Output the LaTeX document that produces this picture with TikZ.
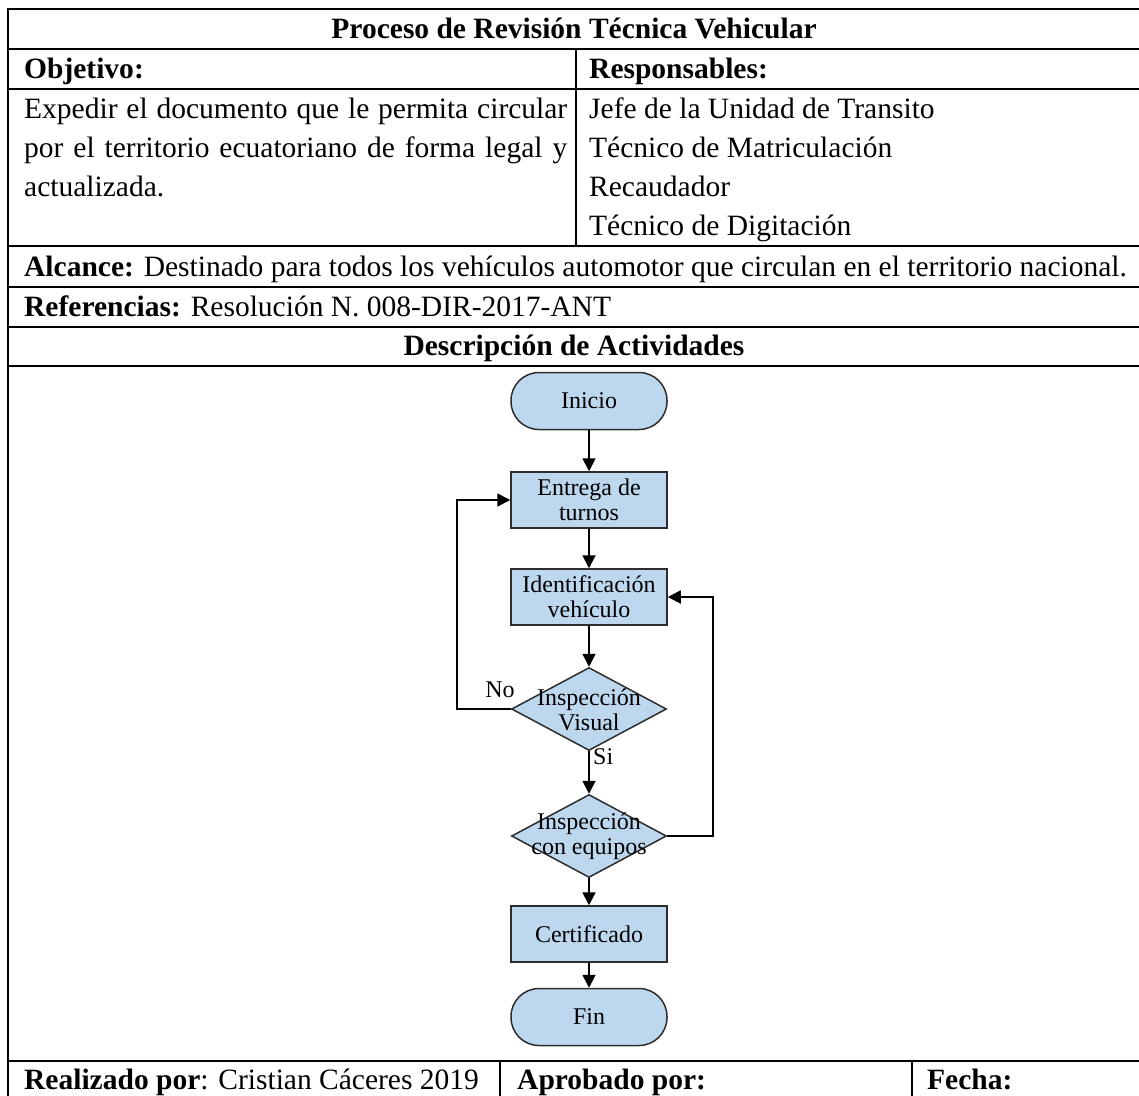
\documentclass[tikz,border=0pt]{standalone}
\usepackage{fontspec}
\setmainfont{Liberation Serif}
\usetikzlibrary{shapes.geometric,arrows.meta}
\definecolor{boxblue}{RGB}{189,215,238}
\definecolor{boxline}{RGB}{45,45,45}
\begin{document}
\begin{tikzpicture}[x=1pt,y=-1pt,
  hline/.style={line width=2.2pt},
  vline/.style={line width=1.6pt},
  txt/.style={inner sep=0pt,anchor=base west,font=\fontsize{29.5}{39}\selectfont},
  ctxt/.style={txt,anchor=base},
  fc/.style={draw=boxline,fill=boxblue,line width=1.5pt,inner sep=0pt,align=center,
    font=\fontsize{24}{25}\selectfont},
  procbox/.style={fc,rectangle,minimum width=156pt,minimum height=56pt},
  termbox/.style={fc,rectangle,rounded corners=28pt,minimum width=156pt,minimum height=57pt},
  decbox/.style={fc,diamond,minimum width=155pt,minimum height=83pt},
  fctext/.style={inner sep=0pt,align=center,font=\fontsize{24}{25}\selectfont},
  arr/.style={line width=1.8pt,draw=black,-{Triangle[length=13pt,width=13pt]}},
]
\useasboundingbox (0,0) rectangle (1139,1095);
% table rules
\draw[hline] (7,9) -- (1145,9);
\draw[hline] (7,49) -- (1145,49);
\draw[hline] (7,89) -- (1145,89);
\draw[hline] (7,246) -- (1145,246);
\draw[hline] (7,287) -- (1145,287);
\draw[hline] (7,327) -- (1145,327);
\draw[hline] (7,366) -- (1145,366);
\draw[hline] (7,1061) -- (1145,1061);
\draw[vline] (8,8) -- (8,1100);
\draw[vline] (576,49) -- (576,246);
\draw[vline] (500,1061) -- (500,1100);
\draw[vline] (912,1061) -- (912,1100);
% table text
\node[ctxt] (title) at (574,38) {\textbf{Proceso de Revisión Técnica Vehicular}};
\node[txt] (obj) at (24,78) {\textbf{Objetivo:}};
\node[txt] (resp) at (589,78) {\textbf{Responsables:}};
\node[txt] (o1) at (24,118) {\makebox[543pt][s]{Expedir el documento que le permita circular}};
\node[txt] (o2) at (24,157) {\makebox[543pt][s]{por el territorio ecuatoriano de forma legal y}};
\node[txt] (o3) at (24,196) {actualizada.};
\node[txt] (r1) at (589,118) {Jefe de la Unidad de Transito};
\node[txt] (r2) at (589,157) {Técnico de Matriculación};
\node[txt] (r3) at (589,196) {Recaudador};
\node[txt] (r4) at (589,235) {Técnico de Digitación};
\node[txt] (alc) at (24,276) {\textbf{Alcance:} Destinado para todos los vehículos automotor que circulan en el territorio nacional.};
\node[txt] (ref) at (24,316) {\textbf{Referencias:} Resolución N. 008-DIR-2017-ANT};
\node[ctxt] (desc) at (574,355) {\textbf{Descripción de Actividades}};
\node[txt] (real) at (24,1089) {\textbf{Realizado por}: Cristian Cáceres 2019};
\node[txt] (apr) at (517,1089) {\textbf{Aprobado por:}};
\node[txt] (fecha) at (927,1089) {\textbf{Fecha:}};
% flowchart
\node[termbox] (ini) at (589,401) {Inicio};
\node[procbox] (ent) at (589,500) {Entrega de\\turnos};
\node[procbox] (idv) at (589,597) {Identificación\\vehículo};
\node[decbox] (vis) at (589,709) {};
\node[fctext] (vist) at (589,710) {Inspección\\Visual};
\node[decbox] (equ) at (589,836) {};
\node[fctext] (equt) at (589,836) {Inspección\\con equipos};
\node[procbox] (cer) at (589,934) {Certificado};
\node[termbox] (fin) at (589,1017) {Fin};
\coordinate (lx) at (457,0);
\coordinate (rx) at (713,0);
\draw[arr] (ini) -- (ent);
\draw[arr] (ent) -- (idv);
\draw[arr] (idv) -- (vis.north);
\draw[arr] (vis.south) -- (equ.north);
\draw[arr] (equ.south) -- (cer);
\draw[arr] (cer) -- (fin);
\draw[arr] (vis.west) -- (vis.west -| lx) |- (ent.west);
\draw[arr] (equ.east) -- (equ.east -| rx) |- (idv.east);
\node[fctext] (nol) at (500,690) {No};
\node[fctext,anchor=west] (sil) at (593,757) {Si};
\end{tikzpicture}
\end{document}
